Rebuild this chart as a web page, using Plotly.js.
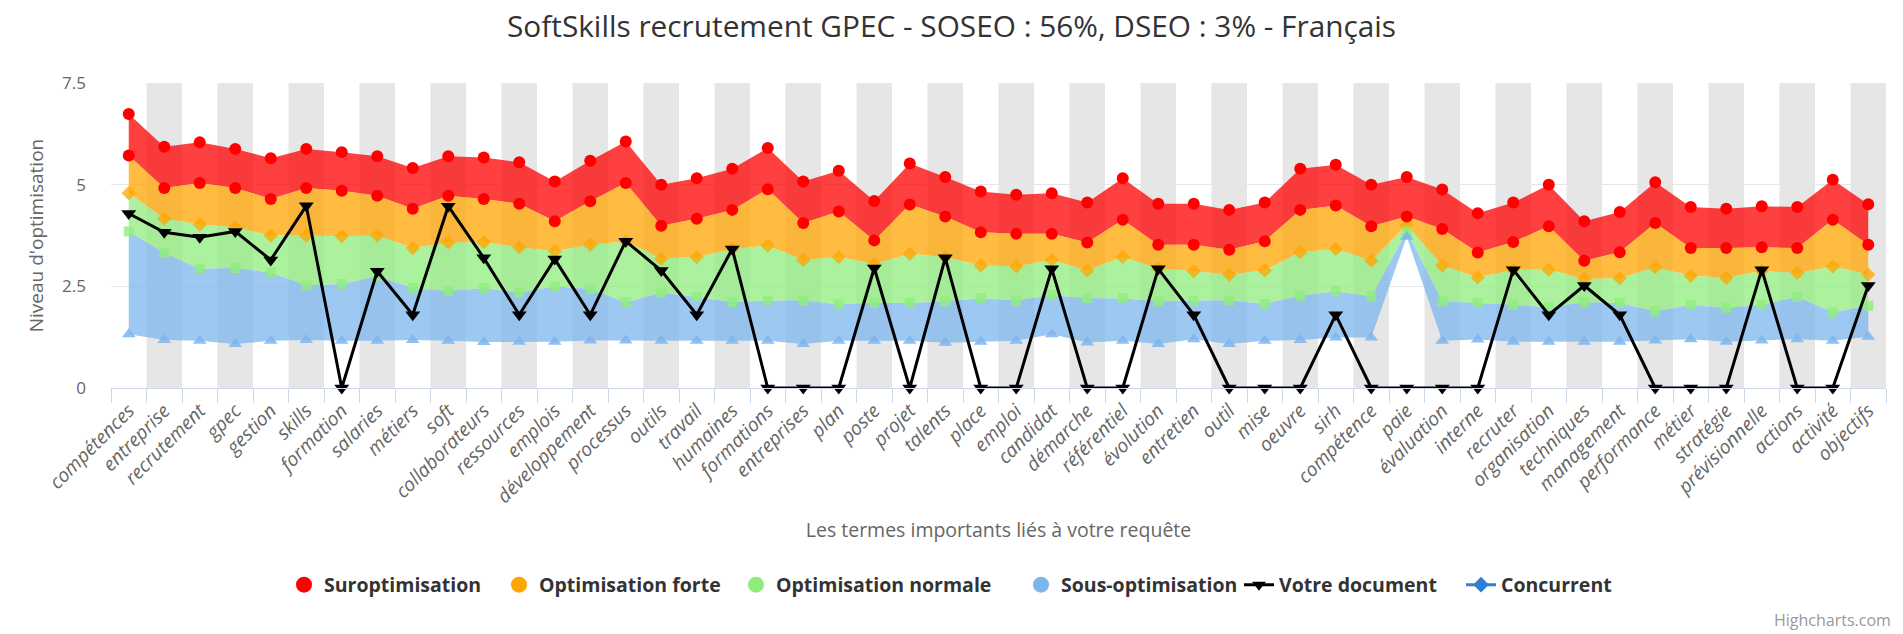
<!DOCTYPE html>
<html>
<head>
<meta charset="utf-8">
<script src="https://cdn.plot.ly/plotly-3.0.1.min.js"></script>
<style>html,body{margin:0;padding:0;background:#fff;}#chart{width:1903px;height:634px;}</style>
</head>
<body>
<div id="chart"></div>
<script>
const categories = ["compétences","entreprise","recrutement","gpec","gestion","skills","formation","salaries","métiers","soft","collaborateurs","ressources","emplois","développement","processus","outils","travail","humaines","formations","entreprises","plan","poste","projet","talents","place","emploi","candidat","démarche","référentiel","évolution","entretien","outil","mise","oeuvre","sirh","compétence","paie","évaluation","interne","recruter","organisation","techniques","management","performance","métier","stratégie","prévisionnelle","actions","activité","objectifs"];

// Suroptimisation range: [suroptLow, suroptHigh]
const suroptHigh = [6.74,5.93,6.04,5.88,5.65,5.88,5.80,5.70,5.41,5.70,5.67,5.55,5.08,5.59,6.06,5.00,5.16,5.39,5.90,5.08,5.34,4.60,5.52,5.19,4.83,4.75,4.79,4.56,5.16,4.53,4.53,4.38,4.56,5.39,5.49,5.00,5.19,4.88,4.30,4.56,5.00,4.10,4.33,5.06,4.45,4.41,4.47,4.45,5.12,4.52];
const suroptLow = [5.72,4.92,5.04,4.92,4.65,4.92,4.85,4.73,4.41,4.73,4.65,4.53,4.10,4.59,5.04,3.99,4.16,4.38,4.89,4.06,4.34,3.63,4.51,4.22,3.83,3.79,3.79,3.58,4.14,3.52,3.52,3.40,3.61,4.38,4.49,3.98,4.22,3.91,3.33,3.59,3.98,3.13,3.34,4.06,3.44,3.44,3.46,3.44,4.14,3.52];
// Optimisation forte range: [forteLow, suroptLow]
const forteLow = [4.79,4.16,4.02,3.95,3.75,3.75,3.73,3.75,3.44,3.58,3.58,3.46,3.36,3.52,3.60,3.18,3.22,3.42,3.50,3.15,3.22,3.05,3.30,3.22,3.01,2.99,3.15,2.89,3.22,2.93,2.87,2.79,2.89,3.34,3.42,3.13,4.00,3.01,2.72,2.91,2.91,2.68,2.70,2.97,2.76,2.71,2.88,2.83,2.99,2.79];
// Optimisation normale range: [normaleLow, forteLow]
const normaleLow = [3.85,3.32,2.93,2.95,2.84,2.52,2.56,2.75,2.46,2.38,2.46,2.34,2.50,2.43,2.11,2.34,2.24,2.11,2.15,2.15,2.06,2.09,2.09,2.13,2.21,2.15,2.28,2.21,2.21,2.13,2.15,2.15,2.07,2.27,2.38,2.25,3.85,2.13,2.09,2.05,1.98,2.11,2.09,1.88,2.05,1.97,2.05,2.24,1.86,2.02];
// Sous-optimisation range: [sousLow, normaleLow]
const sousLow = [1.32,1.18,1.16,1.08,1.16,1.18,1.16,1.16,1.18,1.16,1.13,1.14,1.14,1.17,1.17,1.16,1.16,1.16,1.16,1.08,1.16,1.16,1.16,1.11,1.14,1.16,1.32,1.12,1.16,1.08,1.20,1.08,1.16,1.18,1.24,1.24,3.72,1.16,1.19,1.14,1.14,1.14,1.14,1.17,1.20,1.14,1.17,1.20,1.16,1.26];
// Votre document
const docValues = [4.29,3.83,3.71,3.85,3.15,4.48,0,2.87,1.80,4.47,3.20,1.80,3.17,1.80,3.61,2.89,1.80,3.42,0,0,0,2.95,0,3.20,0,0,2.93,0,0,2.93,1.80,0,0,0,1.80,0,0,0,0,2.91,1.80,2.52,1.80,0,0,0,2.91,0,0,2.52];

const seriesNames = ["Suroptimisation","Optimisation forte","Optimisation normale","Sous-optimisation","Votre document","Concurrent"];
const seriesColors = ["#ff0000","#ffa500","#90ed7d","#7cb5ec","#000000","#2f7ed8"];
const yTicks = [0, 2.5, 5, 7.5];

const FONT = "Open Sans, Noto Sans, sans-serif";
const revCats = categories.slice().reverse();

function band(high, low, fill) {
  return {
    x: categories.concat(revCats),
    y: high.concat(low.slice().reverse()),
    type: 'scatter', mode: 'lines', fill: 'toself', fillcolor: fill,
    line: {width: 0}, hoverinfo: 'skip', showlegend: false
  };
}
function marks(vals, symbol, size, color, opacity) {
  return {
    x: categories, y: vals, type: 'scatter', mode: 'markers',
    marker: {symbol: symbol, size: size, color: color, opacity: opacity, line: {width: 0}},
    showlegend: false, cliponaxis: false
  };
}

const traces = [
  band(suroptHigh, suroptLow, 'rgba(255,0,0,0.75)'),
  band(suroptLow, forteLow, 'rgba(255,165,0,0.75)'),
  band(forteLow, normaleLow, 'rgba(144,237,125,0.75)'),
  band(normaleLow, sousLow, 'rgba(124,181,236,0.75)'),
  marks(forteLow, 'diamond', 11, seriesColors[1], 0.75),
  marks(normaleLow, 'square', 10, seriesColors[2], 0.8),
  marks(sousLow, 'triangle-up', 12, seriesColors[3], 0.85),
  marks(suroptHigh, 'circle', 12, seriesColors[0], 1),
  marks(suroptLow, 'circle', 12, seriesColors[0], 1),
  {
    x: categories, y: docValues, type: 'scatter', mode: 'lines+markers',
    line: {color: '#000000', width: 3},
    marker: {symbol: 'triangle-down', size: 13, color: '#000000'},
    showlegend: false, cliponaxis: false
  }
];

// legend entries, one small legend each so they sit where the reference puts them
const legendTextStart = [325, 540, 777, 1062, 1280, 1502];
const legendFont = {family: FONT, size: 19.5, color: '#333333', weight: 'bold'};
const layoutLegends = {};
for (let i = 0; i < 6; i++) {
  const key = i === 0 ? 'legend' : 'legend' + (i + 1);
  const tr = {x: [categories[0]], y: [null], type: 'scatter', name: seriesNames[i], showlegend: true,
    hoverinfo: 'skip', legend: key};
  if (i < 4) {
    tr.mode = 'markers';
    tr.marker = {symbol: 'circle', size: 16, color: seriesColors[i]};
  } else {
    tr.mode = 'lines+markers';
    tr.line = {color: seriesColors[i], width: 3};
    tr.marker = {symbol: i === 4 ? 'triangle-down' : 'diamond', size: 12, color: seriesColors[i]};
  }
  traces.push(tr);
  layoutLegends[key] = {
    xref: 'container', yref: 'container', x: (legendTextStart[i] - 41) / 1903, xanchor: 'left',
    y: 1 - 585 / 634, yanchor: 'middle', orientation: 'h', font: legendFont,
    bgcolor: 'rgba(0,0,0,0)', itemclick: false, itemdoubleclick: false
  };
}

const shapes = [];
for (let i = 1; i < categories.length; i += 2) {
  shapes.push({type: 'rect', xref: 'x', yref: 'paper', x0: i - 0.5, x1: i + 0.5, y0: 0, y1: 1,
    fillcolor: '#e6e6e6', line: {width: 0}, layer: 'below'});
}

const layout = Object.assign({
  width: 1903, height: 634,
  margin: {l: 111, r: 17, t: 83, b: 246},
  paper_bgcolor: '#ffffff', plot_bgcolor: '#ffffff',
  font: {family: FONT, color: '#666666'},
  title: {text: 'SoftSkills recrutement GPEC - SOSEO : 56%, DSEO : 3% - Français',
    font: {family: FONT, size: 29.8, color: '#333333'}, x: 0.5, xanchor: 'center', y: 1 - 27/634, yanchor: 'middle'},
  xaxis: {
    type: 'category', categoryorder: 'array', categoryarray: categories,
    range: [-0.5, categories.length - 0.5],
    tickson: 'boundaries', ticks: 'outside', ticklen: 14, tickcolor: '#ccd6eb', tickwidth: 1,
    showline: true, linecolor: '#ccd6eb', linewidth: 1, showgrid: false, zeroline: false,
    tickangle: -45, tickfont: {family: FONT, size: 19.2, color: '#666666', style: 'italic'}, ticklabelstandoff: 3,
    title: {text: 'Les termes importants liés à votre requête', font: {family: FONT, size: 19.5, color: '#666666'}, standoff: 15},
    automargin: false, fixedrange: true
  },
  yaxis: {
    range: [0, 7.5], tickvals: yTicks, ticktext: yTicks.map(String),
    showgrid: true, gridcolor: '#e6e6e6', gridwidth: 1, zeroline: false, showline: false,
    tickfont: {family: FONT, size: 17, color: '#666666'}, ticklabelstandoff: 24,
    title: {text: "Niveau d'optimisation", font: {family: FONT, size: 19, color: '#666666'}, standoff: 13},
    automargin: false, fixedrange: true
  },
  shapes: shapes,
  showlegend: true,
  annotations: [{text: 'Highcharts.com', xref: 'paper', yref: 'paper', x: 1.004, y: (388 - 620) / 305, xanchor: 'right', yanchor: 'middle',
    showarrow: false, font: {family: FONT, size: 16, color: '#999999'}}]
}, layoutLegends);

Plotly.newPlot('chart', traces, layout, {displayModeBar: false, staticPlot: true});
</script>
</body>
</html>
